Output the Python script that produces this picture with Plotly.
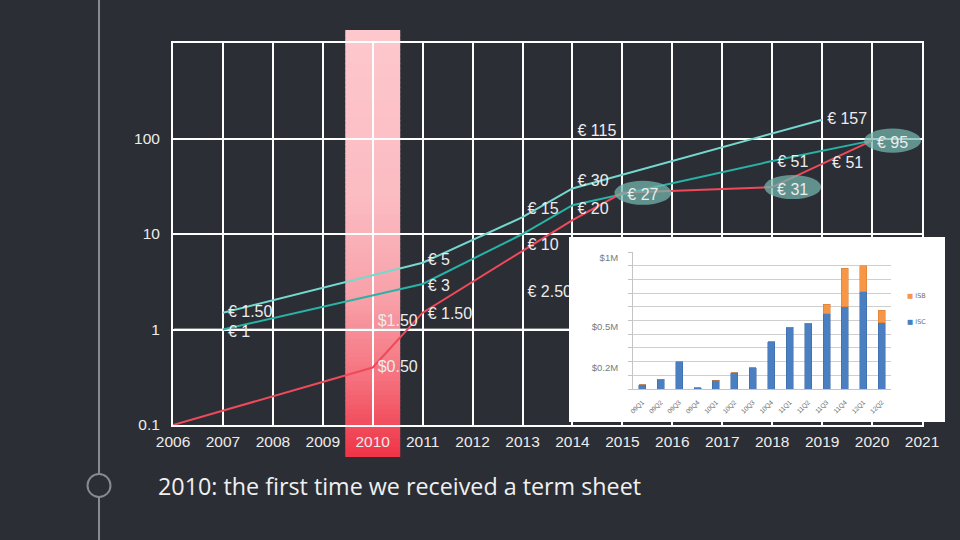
import plotly.graph_objects as go

BG = '#2c2e36'
TXT = '#ececec'
FONT = 'Liberation Sans, Arial, sans-serif'

# ---------------- main chart data ----------------
years_cyan = [2007, 2011, 2013, 2014, 2019]
vals_cyan = [1.5, 5, 15, 30, 157]

years_teal = [2007, 2011, 2013, 2014, 2018, 2020]
vals_teal = [1, 3, 10, 20, 58, 95]

years_red = [2006, 2010, 2011, 2014, 2015, 2018, 2020]
vals_red = [0.1, 0.4, 1.5, 14, 27, 31, 95]

label_text = ['€ 1.50', '€ 1', '$1.50', '$0.50', '€ 5', '€ 3', '€ 1.50', '€ 15',
              '€ 10', '€ 2.50', '€ 115', '€ 30', '€ 20', '€ 51', '€ 51', '€ 157']
label_year = [2007, 2007, 2010, 2010, 2011, 2011, 2011, 2013,
              2013, 2013, 2014, 2014, 2014, 2018, 2019.1, 2019]
label_value = [1.5, 0.92, 1.19, 0.395, 5.2, 2.82, 1.41, 17.9,
               7.4, 2.4, 116, 34.8, 17.9, 55.5, 53.6, 155]

callout_text = ['€ 27', '€ 31', '€ 95']
callout_year = [2015, 2018, 2020]
callout_value = [27, 31, 95]

highlight_year = 2010

y_tickvals = [0.1, 1, 10, 100, 1000]
y_ticktext = ['0.1', '1', '10', '100', '']

# ---------------- inset chart data ----------------
quarters = ['09Q1', '09Q2', '09Q3', '09Q4', '10Q1', '10Q2', '10Q3', '10Q4',
            '11Q1', '11Q2', '11Q3', '11Q4', '12Q1', '12Q2']
isc = [0.03, 0.07, 0.20, 0.01, 0.065, 0.12, 0.155, 0.345,
       0.45, 0.48, 0.55, 0.60, 0.71, 0.485]
isb = [0, 0, 0, 0, 0, 0, 0, 0, 0, 0, 0.07, 0.28, 0.19, 0.09]
inset_tickvals = [0.2, 0.5, 1.0]
inset_ticktext = ['$0.2M', '$0.5M', '$1M']

fig = go.Figure()

# main lines
fig.add_trace(go.Scatter(x=years_cyan, y=vals_cyan, mode='lines',
                         line=dict(color='#74d8ce', width=2), hoverinfo='skip'))
fig.add_trace(go.Scatter(x=years_teal, y=vals_teal, mode='lines',
                         line=dict(color='#27b3a6', width=2), hoverinfo='skip'))
fig.add_trace(go.Scatter(x=years_red, y=vals_red, mode='lines',
                         line=dict(color='#ef4a5a', width=2), hoverinfo='skip'))
label_x = [yr + 0.1 for yr in label_year]  # small gap right of the point
fig.add_trace(go.Scatter(x=label_x, y=label_value, mode='text', text=label_text,
                         textposition='middle right', cliponaxis=False,
                         textfont=dict(family=FONT, size=16, color=TXT), hoverinfo='skip'))

# white panel for the inset (subplot 2)
fig.add_trace(go.Heatmap(z=[[1]], colorscale=[[0, '#ffffff'], [1, '#ffffff']],
                         showscale=False, hoverinfo='skip', xaxis='x2', yaxis='y2'))

# inset stacked bars (subplot 3)
fig.add_trace(go.Bar(x=quarters, y=isc, name='ISC', width=0.38, xaxis='x3', yaxis='y3',
                     marker=dict(color='#4a7fc1', line=dict(color='#3b66a0', width=0.5)),
                     hoverinfo='skip'))
fig.add_trace(go.Bar(x=quarters, y=isb, name='ISB', width=0.38, xaxis='x3', yaxis='y3',
                     marker=dict(color='#f79646', line=dict(color='#d07a30', width=0.5)),
                     hoverinfo='skip'))

shapes = []

# gradient highlight band (stacked thin strips)
stops = [(0.0, (253, 200, 205)), (0.4, (251, 187, 193)), (0.63, (248, 160, 168)),
         (0.82, (245, 112, 124)), (1.0, (239, 52, 71))]


def grad(t):
    for (t0, c0), (t1, c1) in zip(stops[:-1], stops[1:]):
        if t <= t1:
            f = (t - t0) / (t1 - t0)
            return 'rgb(%d,%d,%d)' % tuple(round(a + (b - a) * f) for a, b in zip(c0, c1))
    return 'rgb(%d,%d,%d)' % stops[-1][1]


top, bot = 1 - 30 / 540, 1 - 457 / 540
n = 90
for i in range(n):
    y1 = top - (top - bot) * i / n
    y0 = top - (top - bot) * (i + 1) / n
    shapes.append(dict(type='rect', xref='x', yref='paper', layer='below',
                       x0=highlight_year - 0.55, x1=highlight_year + 0.55,
                       y0=y0 - 0.0015 if i < n - 1 else y0, y1=y1,
                       fillcolor=grad((i + 0.5) / n), line=dict(width=0)))

# slightly grey gridline at 1 (as in the original)
shapes.append(dict(type='line', xref='paper', yref='y', layer='between',
                   x0=174 / 960, x1=921 / 960, y0=1, y1=1,
                   line=dict(color='#c9cacd', width=2)))

# callout ellipses
for t, yr, v in zip(callout_text, callout_year, callout_value):
    shapes.append(dict(type='circle', xref='x', yref='y', layer='above',
                       x0=yr - 0.16, x1=yr + 0.98, y0=v / 1.336, y1=v * 1.336,
                       fillcolor='rgba(117,185,174,0.72)', line=dict(width=0),
                       label=dict(text=t, font=dict(family=FONT, size=16, color=TXT),
                                  textposition='middle center')))

# left timeline
shapes.append(dict(type='line', xref='paper', yref='paper', layer='below',
                   x0=99 / 960, x1=99 / 960, y0=0, y1=1,
                   line=dict(color='#878a91', width=2)))
shapes.append(dict(type='circle', xref='paper', yref='paper', layer='above',
                   x0=87.5 / 960, x1=110.5 / 960, y0=1 - 497 / 540, y1=1 - 474 / 540,
                   fillcolor=BG, line=dict(color='#878a91', width=2)))

annotations = [
    dict(text='2010: the first time we received a term sheet', xref='paper', yref='paper',
         x=156 / 960, y=1 - 486 / 540, xanchor='left', yanchor='middle', showarrow=False,
         font=dict(family='Open Sans, Lato, sans-serif', size=23.3, color='#f0f0f0')),
    dict(text='<span style="color:#f79646">■</span> ISB', xref='paper', yref='paper',
         x=905 / 960, y=1 - 296 / 540, xanchor='left', yanchor='middle', showarrow=False,
         font=dict(family='DejaVu Sans, sans-serif', size=6.5, color='#707070')),
    dict(text='<span style="color:#4a7fc1">■</span> ISC', xref='paper', yref='paper',
         x=905 / 960, y=1 - 322 / 540, xanchor='left', yanchor='middle', showarrow=False,
         font=dict(family='DejaVu Sans, sans-serif', size=6.5, color='#707070')),
]

fig.update_layout(
    width=960, height=540, margin=dict(l=0, r=0, t=0, b=0, pad=0, autoexpand=False),
    paper_bgcolor=BG, plot_bgcolor='rgba(0,0,0,0)',
    showlegend=False, barmode='stack',
    shapes=shapes, annotations=annotations,
    xaxis=dict(domain=[173 / 960, 922 / 960], range=[2006, 2021], tick0=2006, dtick=1,
               showgrid=True, gridcolor='#ffffff', gridwidth=2, zeroline=False,
               showline=True, mirror=True, linecolor='#ffffff', linewidth=2,
               ticks='', ticklabelstandoff=1, automargin=False,
               tickfont=dict(family=FONT, size=15.5, color=TXT)),
    yaxis=dict(domain=[1 - 425 / 540, 1 - 43 / 540], type='log', range=[-1, 3],
               tickmode='array', tickvals=y_tickvals, ticktext=y_ticktext,
               showgrid=True, gridcolor='#ffffff', gridwidth=2, zeroline=False,
               showline=True, mirror=True, linecolor='#ffffff', linewidth=2,
               ticks='', ticklabelstandoff=8, automargin=False,
               tickfont=dict(family=FONT, size=15.5, color=TXT)),
    xaxis2=dict(domain=[569 / 960, 945 / 960], range=[-0.5, 0.5], visible=False,
                anchor='y2', automargin=False),
    yaxis2=dict(domain=[1 - 422 / 540, 1 - 237 / 540], range=[-0.5, 0.5], visible=False,
                anchor='x2', automargin=False),
    xaxis3=dict(domain=[633 / 960, 891 / 960], anchor='y3', type='category',
                range=[-0.5, 13.5], tickangle=-45, showgrid=False, zeroline=False,
                showline=True, linecolor='#c4c4c4', linewidth=1, ticks='',
                ticklabelstandoff=6, automargin=False,
                tickfont=dict(family=FONT, size=6.5, color='#707070')),
    yaxis3=dict(domain=[1 - 389 / 540, 1 - 252 / 540], anchor='x3', range=[0, 1.0],
                tickmode='array', tickvals=inset_tickvals, ticktext=inset_ticktext,
                showgrid=True, gridcolor='#cfcfcf', gridwidth=1, zeroline=False,
                showline=True, linecolor='#c4c4c4', linewidth=1,
                ticks='outside', ticklen=4, tickcolor='#c4c4c4', automargin=False,
                minor=dict(dtick=0.1, tick0=0, showgrid=True, gridcolor='#cfcfcf',
                           ticks='outside', ticklen=4, tickcolor='#c4c4c4'),
                ticklabelstandoff=8, ticklabelshift=6,
                tickfont=dict(family=FONT, size=9.5, color='#7a7a7a')),
)

fig.write_html('out.html',
               post_script="document.body.style.margin='0';"
                           "document.body.style.overflow='hidden';")
